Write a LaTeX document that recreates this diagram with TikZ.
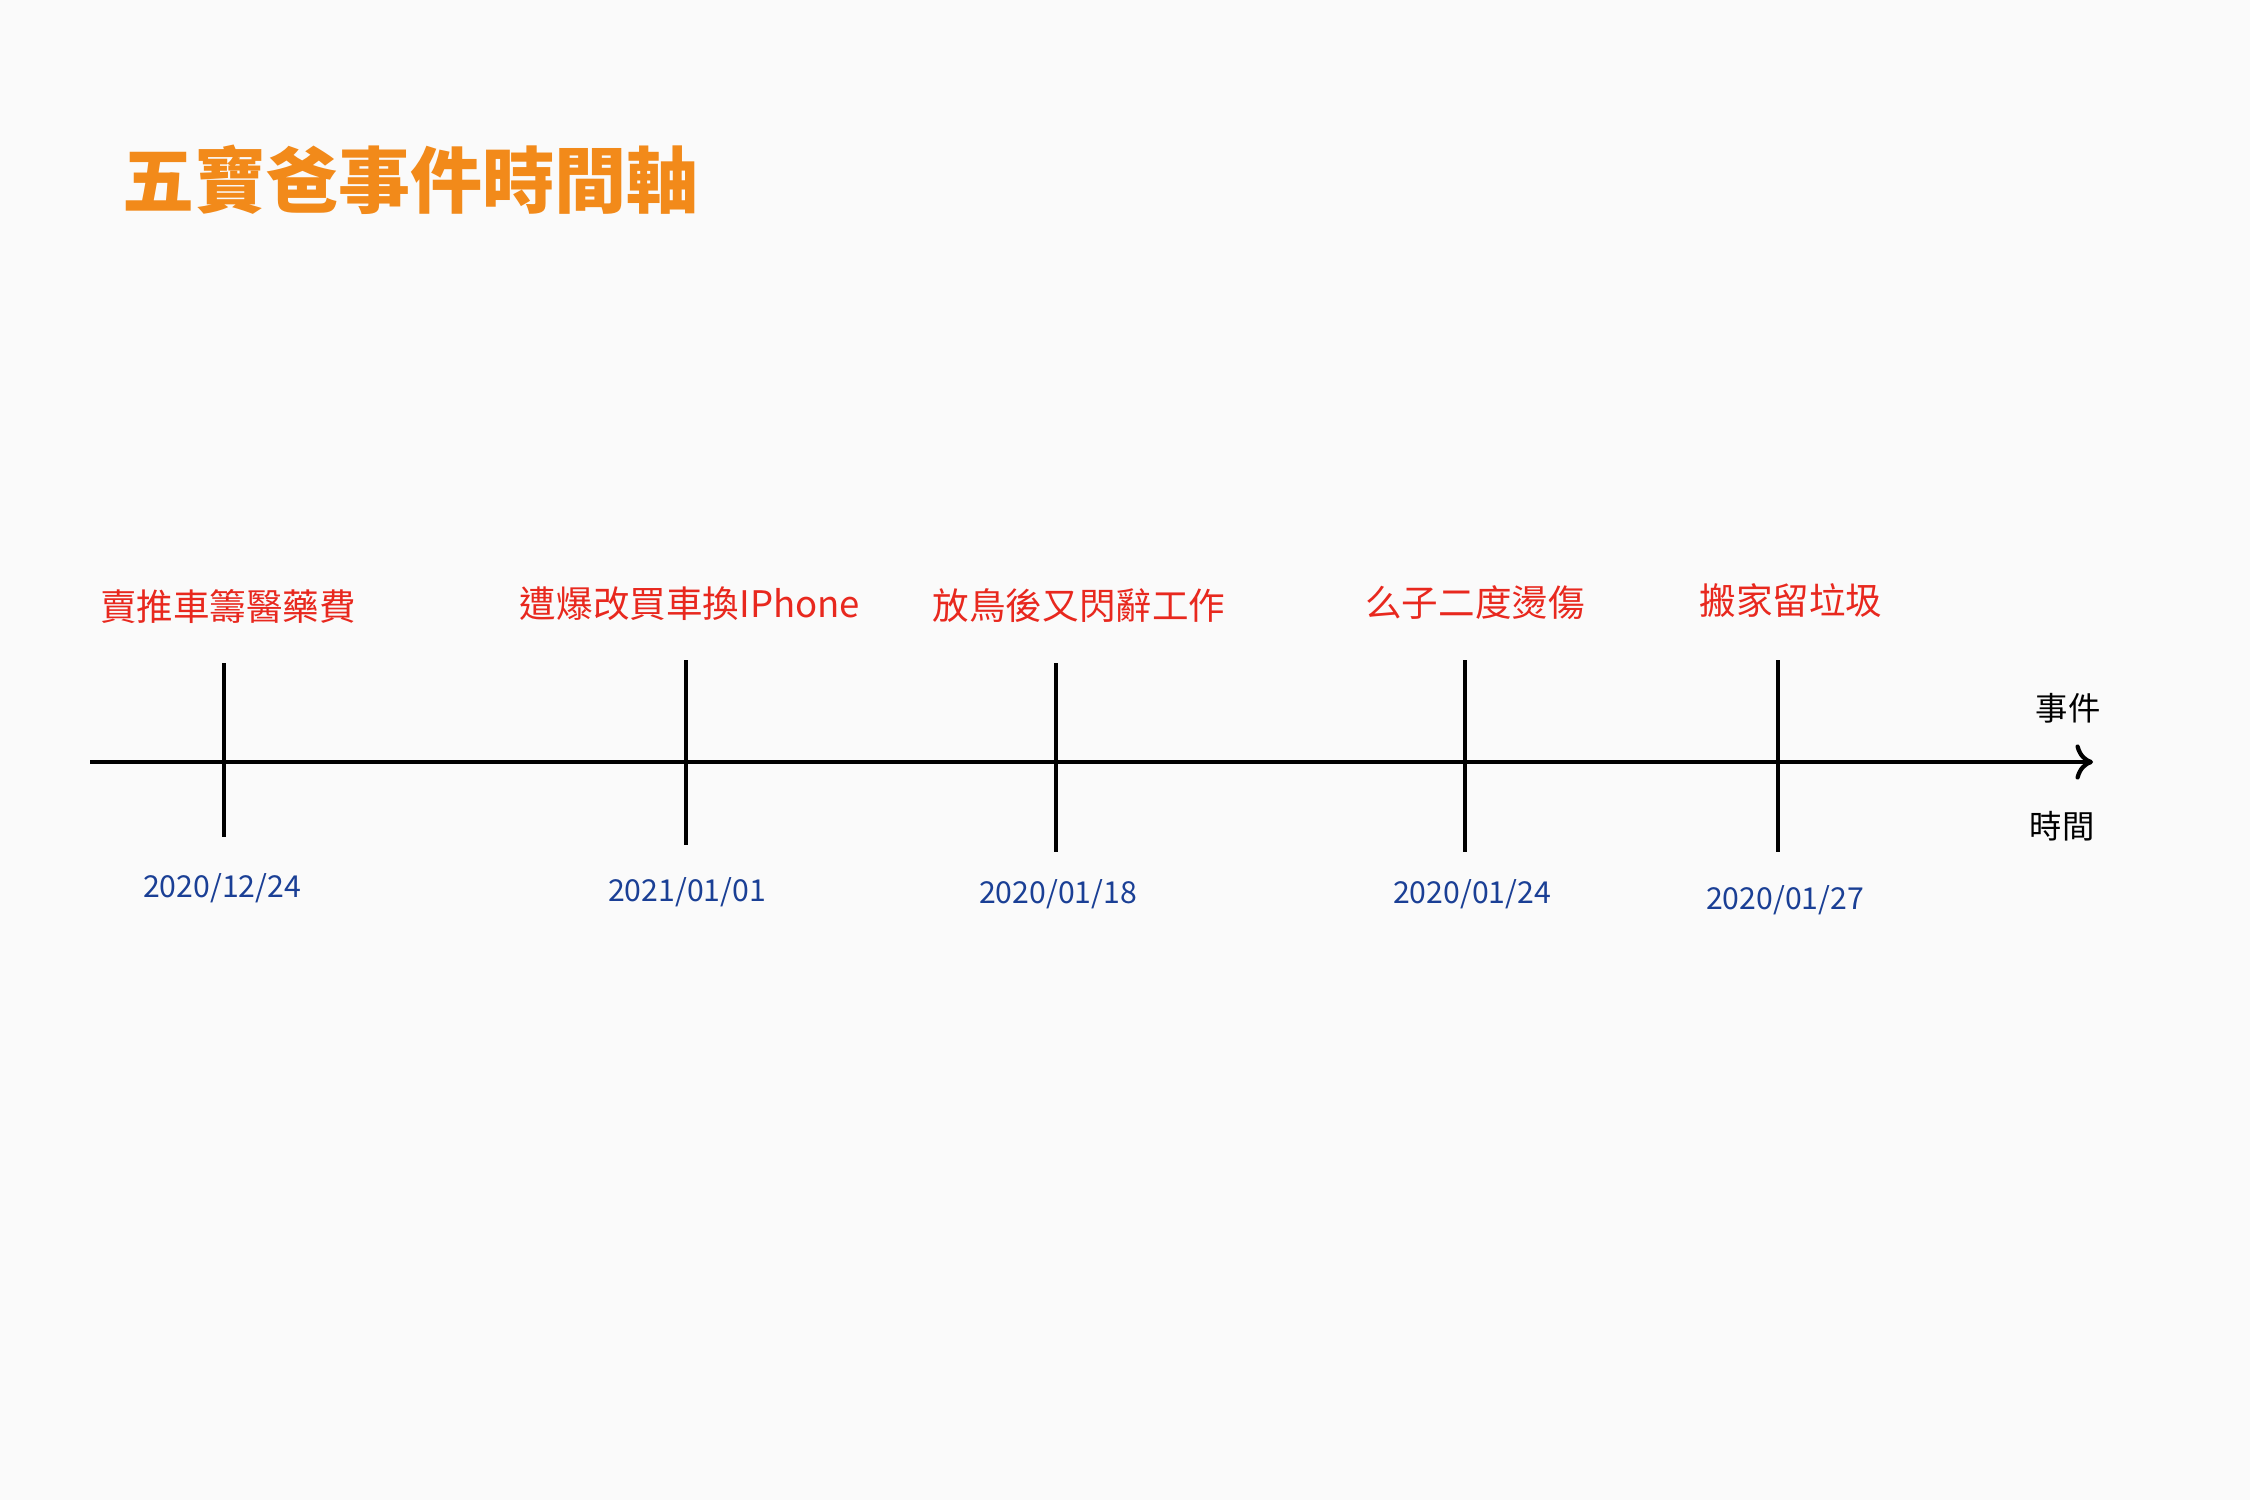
\documentclass[tikz,border=0pt]{standalone}
\usepackage{fontspec}
\setmainfont{Noto Sans CJK TC}
\usetikzlibrary{arrows.meta}
\definecolor{titleorange}{HTML}{F28A1A}
\definecolor{eventred}{HTML}{E8281E}
\definecolor{dateblue}{HTML}{1A3F95}
\definecolor{paper}{HTML}{FAFAFA}
\tikzset{
  evento/.style={text=eventred, font=\fontsize{10.4}{12}\selectfont},
  fecha/.style={text=dateblue, font=\fontsize{8.6}{10}\selectfont},
  eje/.style={text=black, font=\fontsize{9.2}{11}\selectfont},
  marca/.style={line width=1.2pt}
}
\begin{document}
\begin{tikzpicture}
    % Fondo
    \fill[paper] (0,0) rectangle (22.5,15);
    \useasboundingbox (0,0) rectangle (22.5,15);

    % Titulo
    \node[anchor=west, text=titleorange, font=\fontsize{20.5}{24}\selectfont\bfseries] (titulo) at (1.1,13.2) {五寶爸事件時間軸};

    % Eje de tiempo
    \coordinate (inicio) at (0.9,7.38);
    \coordinate (fin) at (20.93,7.38);
    \draw[line width=1.2pt, -{To[length=5pt,width=10pt]}] (inicio) -- (fin);
    \node[eje] (ejeevento) at (20.68,7.92) {事件};
    \node[eje] (ejetiempo) at (20.62,6.74) {時間};

    % Marcas
    \foreach \nombre/\x/\arriba/\abajo in {a/2.24/8.37/6.63, b/6.86/8.40/6.55, c/10.56/8.37/6.48, d/14.65/8.40/6.48, e/17.78/8.40/6.48}{
        \coordinate (\nombre arriba) at (\x,\arriba);
        \coordinate (\nombre abajo) at (\x,\abajo);
        \draw[marca] (\nombre arriba) -- (\nombre abajo);
    }

    % Etiquetas de eventos
    \node[evento] (eventoa) at (2.28,8.94) {賣推車籌醫藥費};
    \node[evento] (eventob) at (6.90,8.96) {遭爆改買車換IPhone};
    \node[evento] (eventoc) at (10.79,8.94) {放鳥後又閃辭工作};
    \node[evento] (eventod) at (14.75,8.97) {么子二度燙傷};
    \node[evento] (eventoe) at (17.91,8.99) {搬家留垃圾};

    % Etiquetas de fechas
    \node[fecha] (fechaa) at (2.22,6.12) {2020/12/24};
    \node[fecha] (fechab) at (6.87,6.08) {2021/01/01};
    \node[fecha] (fechac) at (10.58,6.06) {2020/01/18};
    \node[fecha] (fechad) at (14.72,6.06) {2020/01/24};
    \node[fecha] (fechae) at (17.85,6.00) {2020/01/27};
\end{tikzpicture}
\end{document}
